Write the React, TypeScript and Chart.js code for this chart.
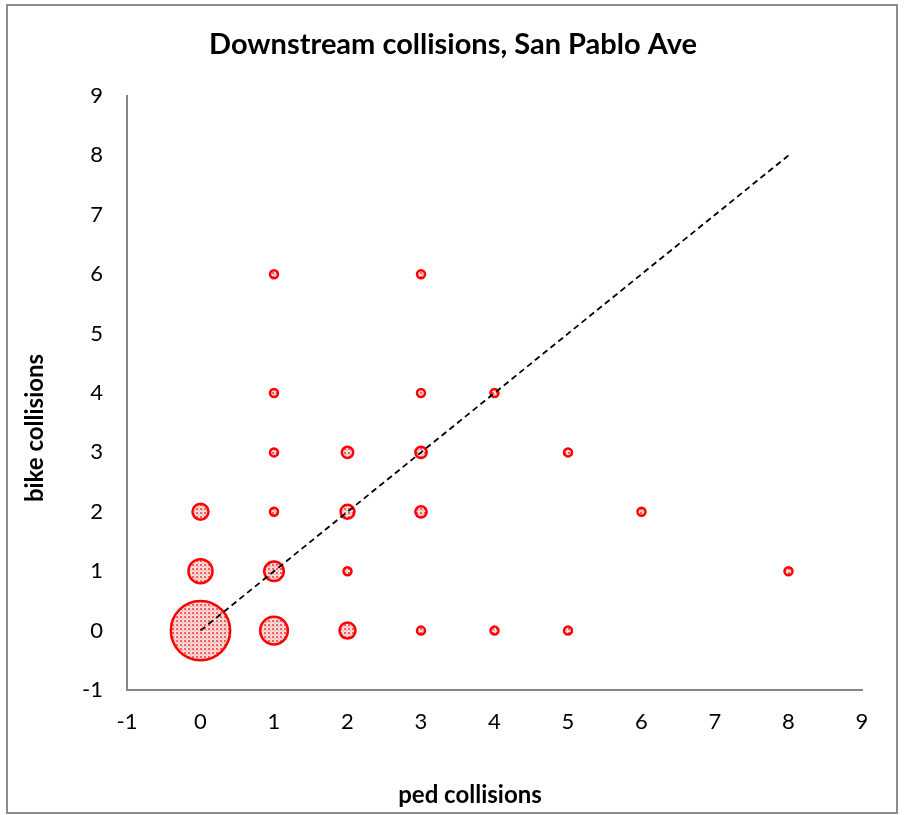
import React, { useEffect, useRef } from "react";
import { Chart, registerables } from "chart.js";

Chart.register(...registerables);

const TITLE = "Downstream collisions, San Pablo Ave";
const X_TITLE = "ped collisions";
const Y_TITLE = "bike collisions";

// ped collisions (x), bike collisions (y), number of locations (bubble size)
const pedValues = [0, 1, 2, 3, 4, 5, 0, 1, 2, 8, 0, 1, 2, 3, 6, 1, 2, 3, 5, 1, 3, 4, 1, 3];
const bikeValues = [0, 0, 0, 0, 0, 0, 1, 1, 1, 1, 2, 2, 2, 2, 2, 3, 3, 3, 3, 4, 4, 4, 6, 6];
const counts = [55, 12, 4, 1, 1, 1, 9, 6, 1, 1, 4, 1, 3, 2, 1, 1, 2, 2, 1, 1, 1, 1, 1, 1];

const refLineX = [0, 8];
const refLineY = [0, 8];

const AXIS_MIN = -1;
const AXIS_MAX = 9;

function makePattern(): CanvasPattern | string {
  const c = document.createElement("canvas");
  c.width = 4;
  c.height = 4;
  const g = c.getContext("2d");
  if (!g) return "#f9b0b0";
  g.fillStyle = "#ffd8d8";
  g.fillRect(0, 0, 4, 4);
  g.fillStyle = "#f06060";
  g.fillRect(0, 0, 2, 2);
  g.fillStyle = "#f59090";
  g.fillRect(2, 2, 1, 1);
  const p = g.createPattern(c, "repeat");
  return p || "#f9b0b0";
}

const titlesPlugin = {
  id: "customTitles",
  afterDraw(chart: any) {
    const ctx = chart.ctx;
    ctx.save();
    ctx.fillStyle = "#000000";
    ctx.textAlign = "center";
    ctx.textBaseline = "middle";
    ctx.font = "bold 29px Lato";
    ctx.fillText(TITLE, 453, 45);
    ctx.font = "bold 24px Lato";
    ctx.fillText(X_TITLE, 470, 795);
    ctx.translate(35, 428);
    ctx.rotate(-Math.PI / 2);
    ctx.fillText(Y_TITLE, 0, 0);
    ctx.restore();
  },
};

export default function App() {
  const ref = useRef<HTMLCanvasElement | null>(null);

  useEffect(() => {
    if (!ref.current) return;
    const pattern = makePattern();
    const bubbles = pedValues.map((x, i) => ({
      x,
      y: bikeValues[i],
      r: 4 * Math.sqrt(counts[i]),
    }));
    const line = refLineX.map((x, i) => ({ x, y: refLineY[i] }));

    const chart = new Chart(ref.current, {
      type: "bubble",
      data: {
        datasets: [
          {
            type: "line",
            label: "reference",
            data: line,
            borderColor: "#000000",
            borderWidth: 1.8,
            borderDash: [6, 4],
            pointRadius: 0,
            fill: false,
            showLine: true,
          } as any,
          {
            type: "bubble",
            label: "collisions",
            data: bubbles,
            backgroundColor: pattern as any,
            borderColor: "#ff0000",
            borderWidth: 2.5,
          },
        ],
      },
      options: {
        responsive: false,
        animation: false,
        events: [],
        layout: { padding: { left: 0, right: 42, top: 96, bottom: 0 } },
        plugins: {
          legend: { display: false },
          title: { display: false },
          tooltip: { enabled: false },
        },
        scales: {
          x: {
            type: "linear",
            min: AXIS_MIN,
            max: AXIS_MAX,
            grid: { display: false, drawTicks: false },
            border: { display: true, color: "#868686", width: 2 },
            ticks: {
              stepSize: 1,
              padding: 19,
              color: "#000000",
              font: { family: "Lato", size: 22 },
            },
            afterFit: (s: any) => {
              s.height = 125;
            },
          },
          y: {
            type: "linear",
            min: AXIS_MIN,
            max: AXIS_MAX,
            grid: { display: false, drawTicks: false },
            border: { display: true, color: "#868686", width: 2 },
            ticks: {
              stepSize: 1,
              padding: 24,
              color: "#000000",
              font: { family: "Lato", size: 22 },
            },
            afterFit: (s: any) => {
              s.width = 127;
            },
          },
        },
      },
      plugins: [titlesPlugin],
    });
    return () => chart.destroy();
  }, []);

  return (
    <div style={{ position: "absolute", left: 0, top: 0, width: 904, height: 815, background: "#ffffff" }}>
      <canvas ref={ref} width={904} height={815} style={{ position: "absolute", left: 0, top: 0 }} />
      <div
        style={{
          position: "absolute",
          left: 6,
          top: 4,
          width: 892,
          height: 810,
          boxSizing: "border-box",
          border: "2px solid #8c8c8c",
          pointerEvents: "none",
        }}
      />
    </div>
  );
}
